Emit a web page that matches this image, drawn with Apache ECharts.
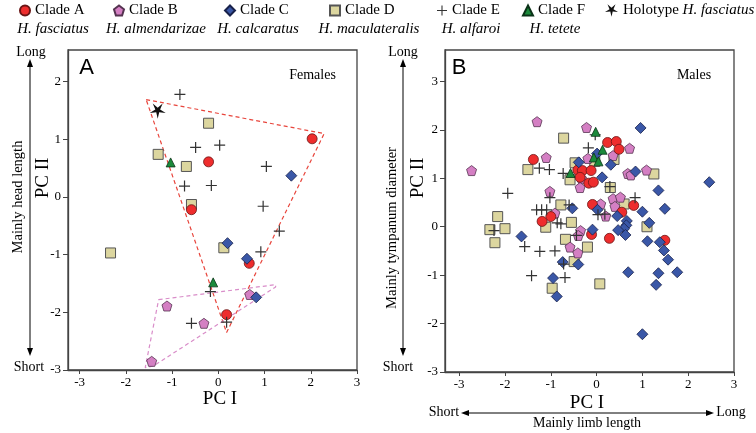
<!DOCTYPE html>
<html><head><meta charset="utf-8">
<script src="https://cdn.jsdelivr.net/npm/echarts@6/dist/echarts.min.js"></script>
<style>html,body{margin:0;padding:0;background:#fff}#c{width:756px;height:433px}</style>
</head><body><div id="c"></div>
<script>
// ---------- DATA ----------
const cladeNames = ['Clade A','Clade B','Clade C','Clade D','Clade E','Clade F','Holotype'];
const speciesNames = ['H. fasciatus','H. almendarizae','H. calcaratus','H. maculateralis','H. alfaroi','H. tetete'];
const tickValues = [-3,-2,-1,0,1,2,3];
const tickValuesYA = [-3,-2,-1,0,1,2];

// Panel A: females (PC I, PC II)
const femA = [[2.03,1.01],[-0.21,0.61],[-0.58,-0.22],[0.67,-1.15],[0.18,-2.04]];
const femB = [[0.68,-1.69],[-1.11,-1.89],[-0.31,-2.19],[-1.44,-2.85]];
const femC = [[1.58,0.37],[0.20,-0.80],[0.62,-1.07],[0.82,-1.74]];
const femD = [[-0.21,1.28],[-1.30,0.74],[-0.69,0.53],[-0.58,-0.13],[-2.33,-0.97],[0.12,-0.88]];
const femE = [[-0.83,1.78],[-0.49,0.86],[0.03,0.90],[1.04,0.53],[-0.73,0.19],[-0.15,0.20],[0.97,-0.16],[1.32,-0.59],[0.92,-0.95],[-0.17,-1.64],[-0.58,-2.19],[0.18,-2.17]];
const femF = [[-1.03,0.60],[-0.11,-1.48]];
const femHolotype = [[-1.31,1.49]];
const hullRedA = [[-1.56,1.69],[2.29,1.10],[0.18,-2.35],[-1.56,1.69]];
const hullPinkA = [[-1.29,-1.78],[1.24,-1.52],[1.24,-1.56],[-1.40,-2.93],[-1.58,-2.96],[-1.29,-1.78]];

// Panel B: males
const maleA = [[0.24,1.74],[0.43,1.76],[0.49,1.60],[-1.38,1.39],[-0.41,1.17],[-0.31,1.16],[-0.12,1.16],[-0.36,1.02],[-0.17,0.90],[-0.07,0.92],[0.81,0.44],[-0.09,0.46],[0.55,0.30],[-1.0,0.21],[-1.19,0.11],[-0.11,-0.16],[0.28,-0.24],[1.49,-0.28]];
const maleB = [[-1.30,2.17],[-0.22,2.05],[0.72,1.62],[0.36,1.47],[-1.10,1.43],[-0.19,1.41],[-2.73,1.16],[0.68,1.10],[0.75,1.07],[1.09,1.17],[-0.33,1.0],[-0.36,0.81],[-1.02,0.73],[0.36,0.58],[0.52,0.61],[0.40,0.42],[0.09,0.47],[0.20,0.22],[-0.91,0.28],[-0.35,-0.08],[-0.40,-0.18],[-0.58,-0.42],[-0.41,-0.54]];
const maleC = [[0.96,2.04],[0.01,1.51],[-0.39,1.33],[0.31,1.28],[0.12,1.02],[0.85,1.14],[2.46,0.92],[1.35,0.75],[1.0,0.31],[-0.53,0.38],[0.02,0.35],[0.45,0.22],[0.66,0.12],[0.65,0.03],[0.60,-0.04],[0.47,-0.07],[0.63,-0.17],[1.49,0.37],[1.15,0.08],[-0.09,-0.06],[1.11,-0.30],[1.38,-0.32],[1.47,-0.49],[1.56,-0.68],[-1.64,-0.20],[-0.74,-0.73],[-0.40,-0.78],[-0.95,-1.06],[-0.87,-1.44],[0.69,-0.94],[1.35,-0.96],[1.76,-0.94],[1.30,-1.20],[1.0,-2.22]];
const maleD = [[-0.72,1.83],[-0.47,1.32],[0.38,1.39],[-0.04,1.35],[-1.50,1.18],[1.25,1.09],[-0.58,0.97],[0.30,0.81],[-0.78,0.45],[0.60,0.47],[-0.55,0.09],[1.10,0.0],[-2.16,0.21],[-2.33,-0.06],[-2.0,-0.04],[-2.22,-0.33],[-1.11,-0.01],[-0.68,-0.26],[-0.20,-0.42],[-0.49,-0.72],[-0.97,-1.27],[0.07,-1.18]];
const maleE = [[-0.18,1.63],[-0.03,1.90],[-1.25,1.21],[-1.03,1.18],[-0.73,1.10],[-1.94,0.69],[-1.02,0.60],[0.29,0.83],[0.84,0.60],[-0.60,0.45],[0.03,0.25],[0.18,0.26],[-1.31,0.35],[-1.20,0.35],[-1.09,0.35],[-0.86,0.08],[-0.78,0.06],[-2.24,-0.08],[-1.57,-0.41],[-1.24,-0.51],[-0.91,-0.50],[-0.44,-0.18],[-0.72,-0.77],[-1.42,-1.01],[-0.69,-1.05]];
const maleF = [[-0.02,1.96],[0.13,1.59],[-0.06,1.43],[0.04,1.35],[-0.57,1.11]];

// ---------- STYLE ----------
const SERIF = 'Liberation Serif';
const pentagon = 'path://M5,0 L10,3.8 L8.1,10 L1.9,10 L0,3.8 Z';
const plus = 'path://M4.45,0 H5.55 V4.45 H10 V5.55 H5.55 V10 H4.45 V5.55 H0 V4.45 H4.45 Z';
function starPath(){
  let p = [];
  for (let i=0;i<10;i++){
    const r = i%2===0 ? 10 : 3.0;
    const a = Math.PI/2 + i*Math.PI/5;
    p.push((10+r*Math.cos(a)).toFixed(2)+','+(10+r*Math.sin(a)).toFixed(2));
  }
  return 'path://M'+p.join(' L')+' Z';
}
const sty = {
  'Clade A': {symbol:'circle', size:10, color:'#ee2d2d', border:'#6a1515', bw:0.8},
  'Clade B': {symbol:pentagon, size:10, color:'#d47fc3', border:'#553350', bw:0.8},
  'Clade C': {symbol:'diamond', size:11, color:'#3a57a7', border:'#18214a', bw:0.8},
  'Clade D': {symbol:'rect', size:10, color:'#dcd69f', border:'#555', bw:1},
  'Clade E': {symbol:plus, size:11, color:'#333', border:'#333', bw:0},
  'Clade F': {symbol:'triangle', size:9, color:'#1b8a3b', border:'#0b3318', bw:0.8},
  'Holotype': {symbol:starPath(), size:16, color:'#111', border:'#111', bw:0}
};
function sc(name, data, gi){
  const s = sty[name];
  return {type:'scatter', name, xAxisIndex:gi, yAxisIndex:gi, data, symbol:s.symbol, symbolSize:s.size,
    symbolKeepAspect:true,
    itemStyle:{color:s.color, borderColor:s.border, borderWidth:s.bw, opacity:1}, z:3};
}
function hull(data, color, gi){
  return {type:'line', xAxisIndex:gi, yAxisIndex:gi, data, symbol:'none', silent:true, z:2,
    lineStyle:{color, width:1.2, type:[4,3]}};
}
function xAx(gi, min){
  return {gridIndex:gi, type:'value', min, max:3,
    splitLine:{show:false},
    axisLine:{show:true, onZero:false, lineStyle:{color:'#444', width:1.3}},
    axisTick:{show:true, length:4, customValues:tickValues, lineStyle:{color:'#444'}},
    axisLabel:{customValues:tickValues, margin:6, fontFamily:SERIF, fontSize:13, color:'#000'}};
}
function yAx(gi, max, ticks){
  return {gridIndex:gi, type:'value', min:-3, max,
    splitLine:{show:false},
    axisLine:{show:true, onZero:false, lineStyle:{color:'#444', width:1.3}},
    axisTick:{show:true, length:5, customValues:ticks, lineStyle:{color:'#444'}},
    axisLabel:{customValues:ticks, margin:7, fontFamily:SERIF, fontSize:13, color:'#000'}};
}

// ---------- GRAPHIC TEXT / ARROWS ----------
function txt(text, x, y, size, opts){
  opts = opts || {};
  return {type:'text', x, y, rotation:opts.rot||0, silent:true, z:10,
    style:{text, x:0, y:0, fill:'#000', font:(opts.italic?'italic ':'')+size+'px "'+(opts.family||SERIF)+'"',
      align:'center', verticalAlign:'middle', textAlign:'center', textVerticalAlign:'middle'}};
}
function vArrow(x, y1, y2){
  return [
    {type:'line', silent:true, shape:{x1:x,y1:y1+6,x2:x,y2:y2-6}, style:{stroke:'#000', lineWidth:1}},
    {type:'polygon', silent:true, shape:{points:[[x,y1],[x-3,y1+8],[x+3,y1+8]]}, style:{fill:'#000'}},
    {type:'polygon', silent:true, shape:{points:[[x,y2],[x-3,y2-8],[x+3,y2-8]]}, style:{fill:'#000'}}
  ];
}
function hArrow(y, x1, x2){
  return [
    {type:'line', silent:true, shape:{x1:x1+6,y1:y,x2:x2-6,y2:y}, style:{stroke:'#000', lineWidth:1}},
    {type:'polygon', silent:true, shape:{points:[[x1,y],[x1+8,y-3],[x1+8,y+3]]}, style:{fill:'#000'}},
    {type:'polygon', silent:true, shape:{points:[[x2,y],[x2-8,y-3],[x2-8,y+3]]}, style:{fill:'#000'}}
  ];
}
const legendLeft = [19,113,224,329,437,522,605];
const speciesX = [53,156,258,369,471,555];

const graphic = [
  txt('A', 86.5, 68, 22, {family:'Liberation Sans'}),
  txt('B', 459, 68, 22, {family:'Liberation Sans'}),
  txt('Females', 312.5, 75.5, 14),
  txt('Males', 694, 75.5, 14),
  txt('Long', 31, 52, 14), txt('Long', 403, 52, 14),
  ...vArrow(30, 59, 356), ...vArrow(403, 59, 356),
  txt('Short', 29, 367, 14), txt('Short', 398, 367, 14),
  txt('Mainly head length', 18, 197, 14.5, {rot:Math.PI/2}),
  txt('PC II', 43, 178, 19, {rot:Math.PI/2}),
  txt('Mainly tympanum diameter', 392, 228, 14.5, {rot:Math.PI/2}),
  txt('PC II', 418, 178, 19, {rot:Math.PI/2}),
  txt('PC I', 220, 399, 19), txt('PC I', 587, 403, 19),
  txt('Short', 444, 412, 14), txt('Long', 731, 412, 14),
  ...hArrow(413, 461, 714),
  txt('Mainly limb length', 587, 423, 14)
];
speciesNames.forEach((n,i)=>graphic.push(txt(n, speciesX[i], 29, 15, {italic:true})));

const legends = cladeNames.map((n,i)=>({
  data:[n], left:legendLeft[i], top:3, padding:0,
  itemWidth: n==='Holotype' ? 13 : 10, itemHeight: n==='Holotype' ? 13 : 10, selectedMode:false,
  textStyle:{fontFamily:SERIF, fontSize:15, color:'#000',
    rich:{n:{fontFamily:SERIF, fontSize:15, color:'#000'}, i:{fontFamily:SERIF, fontSize:15, fontStyle:'italic', color:'#000'}}},
  formatter: n==='Holotype' ? ()=>'{n|Holotype }{i|H. fasciatus}' : '{name}'
}));

const option = {
  animation:false,
  backgroundColor:'#fff',
  legend: legends,
  grid:[
    {left:68, top:50, width:289, height:320, show:true, borderColor:'#444', borderWidth:1.3, outerBoundsMode:'none', containLabel:false},
    {left:445, top:50, width:289, height:322, show:true, borderColor:'#444', borderWidth:1.3, outerBoundsMode:'none', containLabel:false}
  ],
  xAxis:[xAx(0,-3.25), xAx(1,-3.31)],
  yAxis:[yAx(0,2.55,tickValuesYA), yAx(1,3.65,tickValues)],
  graphic,
  series:[
    hull(hullRedA, '#e8453c', 0), hull(hullPinkA, '#d98dc9', 0),
    sc('Clade D', femD, 0), sc('Clade B', femB, 0), sc('Clade A', femA, 0), sc('Clade C', femC, 0),
    sc('Clade E', femE, 0), sc('Clade F', femF, 0), sc('Holotype', femHolotype, 0),
    sc('Clade D', maleD, 1), sc('Clade B', maleB, 1), sc('Clade A', maleA, 1), sc('Clade C', maleC, 1),
    sc('Clade E', maleE, 1), sc('Clade F', maleF, 1)
  ]
};
const chart = echarts.init(document.getElementById('c'), null, {renderer:'canvas'});
chart.setOption(option);
</script></body></html>
